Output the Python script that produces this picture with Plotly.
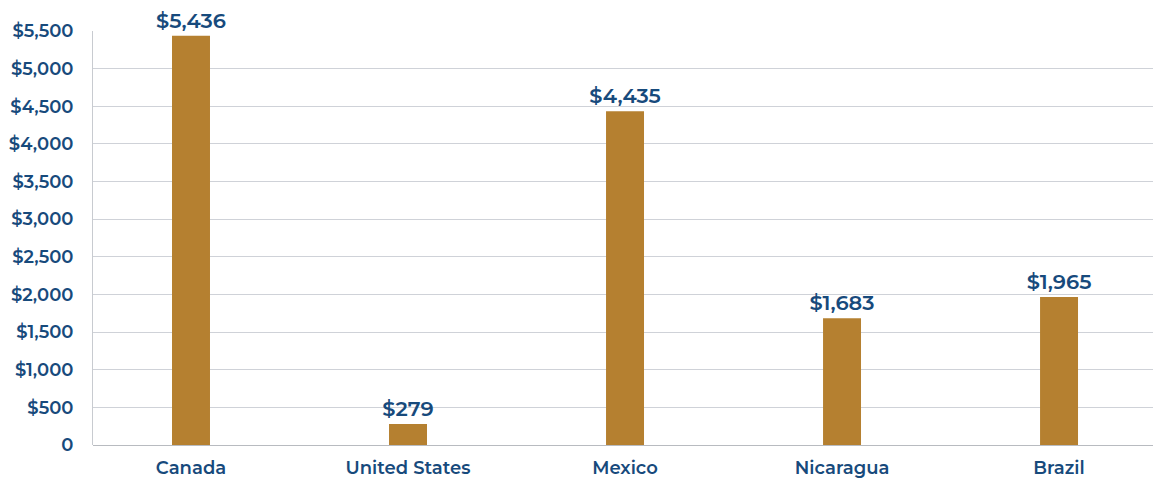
import plotly.graph_objects as go

countries = ["Canada", "United States", "Mexico", "Nicaragua", "Brazil"]
values = [5436, 279, 4435, 1683, 1965]
tick_values = [0, 500, 1000, 1500, 2000, 2500, 3000, 3500, 4000, 4500, 5000, 5500]
tick_labels = ["0"] + [f"${v:,}" for v in tick_values[1:]]

text_color = "#174a7c"
bar_color = "#b58030"
font_family = "Montserrat, 'Open Sans', Lato, sans-serif"

fig = go.Figure(
    go.Bar(
        x=list(range(len(countries))),
        y=values,
        width=0.175,
        marker=dict(color=bar_color, line=dict(width=0)),
        text=[f"${v:,}" for v in values],
        textposition="outside",
        constraintext="none",
        cliponaxis=False,
        textfont=dict(family=font_family, size=21, color=text_color, weight=600),
    )
)

fig.update_layout(
    width=1153,
    height=482,
    margin=dict(l=93, r=0, t=31, b=37),
    plot_bgcolor="white",
    paper_bgcolor="white",
    showlegend=False,
    font=dict(family=font_family, color=text_color),
    xaxis=dict(
        tickmode="array",
        tickvals=list(range(len(countries))),
        ticktext=countries,
        range=[-0.4516, 4.433],
        showgrid=False,
        showline=False,
        zeroline=False,
        ticks="",
        ticklabelstandoff=10,
        tickfont=dict(size=18, color=text_color, weight=600),
    ),
    yaxis=dict(
        range=[0, 5500],
        tickmode="array",
        tickvals=tick_values,
        ticktext=tick_labels,
        showgrid=True,
        gridcolor="#cfd2d8",
        gridwidth=1,
        showline=True,
        linecolor="#c8cbd0",
        linewidth=1,
        zeroline=True,
        zerolinecolor="#b8bbc0",
        zerolinewidth=1,
        ticks="",
        ticklabelstandoff=15,
        tickfont=dict(size=18, color=text_color, weight=600),
    ),
)

fig.write_html("out.html")
